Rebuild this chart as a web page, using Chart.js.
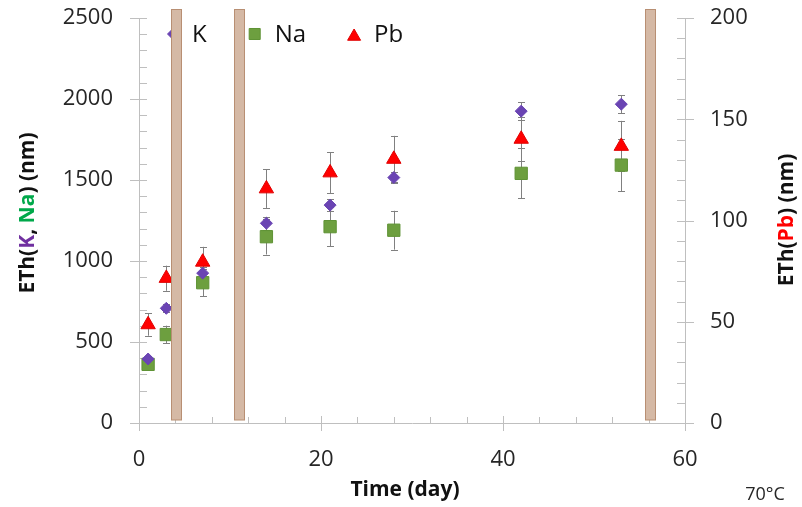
<!DOCTYPE html>
<html>
<head>
<meta charset="utf-8">
<script src="https://cdn.jsdelivr.net/npm/chart.js@4/dist/chart.umd.min.js"></script>
<style>
  html, body { margin: 0; padding: 0; background: #ffffff; }
  #c { display: block; }
</style>
</head>
<body>
<canvas id="c" width="802" height="507"></canvas>
<script>
// Sampling days
const days = [1, 3, 7, 14, 21, 28, 42, 53];

// ETh of K and Na (left axis, nm) with standard deviations
const kValues = [395, 708, 925, 1233, 1345, 1515, 1925, 1968];
const kErrors = [20, 25, 35, 40, 35, 35, 55, 55];
const naValues = [362, 546, 866, 1150, 1212, 1190, 1541, 1592];
const naErrors = [25, 55, 85, 110, 120, 120, 155, 160];

// ETh of Pb (right axis, nm) with standard deviations
const pbValues = [48.6, 71.5, 79.5, 115.7, 123.6, 130.3, 140.2, 136.7];
const pbErrors = [5.5, 6.2, 7.5, 9.5, 10, 11.5, 11, 12.5];

// Labelled tick values
const xMajorTicks = [0, 20, 40, 60];
const leftMajorTicks = [0, 500, 1000, 1500, 2000, 2500];
const rightMajorTicks = [0, 50, 100, 150, 200];

// Days at which the vertical divider strips stand
const dividerDays = [4.1, 10.95, 56.2];

const FONT = "'Open Sans', 'DejaVu Sans', sans-serif";
const AXIS_GREY = '#bfbfbf';
const TEXT = '#262626';

const toPoints = (vals) => days.map((d, i) => ({ x: d, y: vals[i] }));

// Error bars drawn beneath the markers
const errorBars = {
  id: 'errorBars',
  beforeDatasetsDraw(chart) {
    const ctx = chart.ctx;
    const xs = chart.scales.x;
    ctx.save();
    ctx.strokeStyle = '#808080';
    ctx.lineWidth = 1;
    chart.data.datasets.forEach((ds) => {
      const ys = chart.scales[ds.yAxisID];
      ds.data.forEach((p, i) => {
        const e = ds.errors[i];
        const x = Math.round(xs.getPixelForValue(p.x)) + 0.5;
        const y1 = ys.getPixelForValue(p.y + e);
        const y2 = ys.getPixelForValue(p.y - e);
        ctx.beginPath();
        ctx.moveTo(x, y1); ctx.lineTo(x, y2);
        ctx.moveTo(x - 3.5, Math.round(y1) + 0.5); ctx.lineTo(x + 3.5, Math.round(y1) + 0.5);
        ctx.moveTo(x - 3.5, Math.round(y2) + 0.5); ctx.lineTo(x + 3.5, Math.round(y2) + 0.5);
        ctx.stroke();
      });
    });
    ctx.restore();
  }
};

// Major and minor tick marks on the three axes
const tickMarks = {
  id: 'tickMarks',
  beforeDatasetsDraw(chart) {
    const ctx = chart.ctx;
    const a = chart.chartArea;
    const { x, y, y2 } = chart.scales;
    ctx.save();
    ctx.strokeStyle = AXIS_GREY;
    ctx.lineWidth = 1;
    ctx.beginPath();
    y.ticks.forEach((t) => {
      const py = Math.round(y.getPixelForValue(t.value)) + 0.5;
      const major = leftMajorTicks.includes(t.value);
      ctx.moveTo(a.left - (major ? 9 : 0), py);
      ctx.lineTo(a.left + 8, py);
    });
    y2.ticks.forEach((t) => {
      const py = Math.round(y2.getPixelForValue(t.value)) + 0.5;
      const major = rightMajorTicks.includes(t.value);
      ctx.moveTo(a.right - 8, py);
      ctx.lineTo(a.right + (major ? 9 : 0), py);
    });
    x.ticks.forEach((t) => {
      const px = Math.round(x.getPixelForValue(t.value)) + 0.5;
      const major = xMajorTicks.includes(t.value);
      ctx.moveTo(px, a.bottom - (major ? 7 : 6));
      ctx.lineTo(px, a.bottom + (major ? 8 : 0));
    });
    ctx.stroke();
    ctx.restore();
  }
};

// Legend row inside the plot, then the divider strips over it
const legendAndDividers = {
  id: 'legendAndDividers',
  afterDatasetsDraw(chart) {
    const ctx = chart.ctx;
    const a = chart.chartArea;
    const xs = chart.scales.x;
    ctx.save();
    ctx.font = '24px ' + FONT;
    ctx.textBaseline = 'middle';
    const sizes = [4.5, 7.8, 7.5];
    const offsetsY = [0, 0, 2.5];
    let mx = a.left + 33;
    chart.data.datasets.forEach((ds, i) => {
      ctx.fillStyle = ds.backgroundColor;
      ctx.strokeStyle = ds.borderColor;
      ctx.lineWidth = 1;
      Chart.helpers.drawPoint(ctx, {
        pointStyle: ds.pointStyle, radius: sizes[i], rotation: 0, borderWidth: 1
      }, mx, 34 + offsetsY[i]);
      ctx.fillStyle = '#111';
      const tx = mx + 20;
      ctx.fillText(ds.label, tx, 35);
      mx = tx + ctx.measureText(ds.label).width + 48;
    });

    ctx.fillStyle = '#d5b9a5';
    ctx.strokeStyle = '#b88f73';
    ctx.lineWidth = 1;
    dividerDays.forEach((d) => {
      const cx = xs.getPixelForValue(d);
      const left = Math.round(cx - 5) + 0.5;
      const top = Math.round(a.top - 9) + 0.5;
      const h = Math.round(a.bottom - 3) - top;
      ctx.fillRect(left, top, 10, h);
      ctx.strokeRect(left, top, 10, h);
    });
    ctx.restore();
  }
};

// Axis titles and the temperature note
const axisTitles = {
  id: 'axisTitles',
  afterDraw(chart) {
    const ctx = chart.ctx;
    ctx.save();
    ctx.font = 'bold 21px ' + FONT;
    ctx.textBaseline = 'middle';

    const drawRun = (parts, cx, cy, rotate) => {
      ctx.save();
      ctx.translate(cx, cy);
      if (rotate) ctx.rotate(-Math.PI / 2);
      const total = parts.reduce((s, p) => s + ctx.measureText(p[0]).width, 0);
      let x = -total / 2;
      ctx.textAlign = 'left';
      parts.forEach(([txt, col]) => {
        ctx.fillStyle = col;
        ctx.fillText(txt, x, 0);
        x += ctx.measureText(txt).width;
      });
      ctx.restore();
    };

    drawRun([['ETh(', '#111'], ['K', '#7030a0'], [', ', '#111'], ['Na', '#00a84a'], [') (nm)', '#111']], 28, 213, true);
    drawRun([['ETh(', '#111'], ['Pb', '#ff0000'], [') (nm)', '#111']], 787, 220, true);
    drawRun([['Time (day)', '#111']], 405, 490, false);

    ctx.font = '18px ' + FONT;
    ctx.fillStyle = TEXT;
    ctx.textAlign = 'center';
    ctx.fillText('70°C', 765, 495);
    ctx.restore();
  }
};

const tickFont = { family: FONT, size: 22 };

// Fixed axis band sizes, without the label overhang Chart.js adds at the ends
const fixWidth = (w) => (s) => { s.width = w; s.paddingTop = 0; s.paddingBottom = 0; };

new Chart(document.getElementById('c'), {
  type: 'scatter',
  data: {
    datasets: [
      {
        label: 'K', data: toPoints(kValues), errors: kErrors, yAxisID: 'y',
        pointStyle: 'rectRot', pointRadius: 6, pointHoverRadius: 6,
        backgroundColor: '#6a44b3', borderColor: '#6a44b3', borderWidth: 1
      },
      {
        label: 'Na', data: toPoints(naValues), errors: naErrors, yAxisID: 'y',
        pointStyle: 'rect', pointRadius: 8.7, pointHoverRadius: 8.7,
        backgroundColor: '#6d9f3f', borderColor: '#5f9335', borderWidth: 1
      },
      {
        label: 'Pb', data: toPoints(pbValues), errors: pbErrors, yAxisID: 'y2',
        pointStyle: 'triangle', pointRadius: 8.3, pointHoverRadius: 8.3,
        backgroundColor: '#ff0000', borderColor: '#e00000', borderWidth: 1
      }
    ]
  },
  options: {
    responsive: false,
    animation: false,
    devicePixelRatio: 1,
    layout: { autoPadding: false, padding: { top: 18, left: 0, right: 0, bottom: 0 } },
    plugins: { legend: { display: false }, tooltip: { enabled: false } },
    scales: {
      x: {
        type: 'linear', min: 0, max: 60,
        grid: { display: false, drawTicks: false },
        border: { display: true, color: AXIS_GREY, width: 1 },
        ticks: {
          stepSize: 4, autoSkip: false, maxRotation: 0, padding: 24,
          font: tickFont, color: TEXT,
          callback: (v) => xMajorTicks.includes(v) ? String(v) : ''
        },
        afterFit: (s) => { s.height = 84; s.paddingLeft = 0; s.paddingRight = 0; }
      },
      y: {
        type: 'linear', position: 'left', min: 0, max: 2500,
        grid: { display: false, drawTicks: false },
        border: { display: true, color: AXIS_GREY, width: 1 },
        ticks: {
          stepSize: 100, autoSkip: false, padding: 26,
          font: tickFont, color: TEXT,
          callback: (v) => leftMajorTicks.includes(v) ? String(v) : ''
        },
        afterFit: fixWidth(139)
      },
      y2: {
        type: 'linear', position: 'right', min: 0, max: 200,
        grid: { display: false, drawTicks: false },
        border: { display: true, color: AXIS_GREY, width: 1 },
        ticks: {
          stepSize: 10, autoSkip: false, padding: 25,
          font: tickFont, color: TEXT,
          callback: (v) => rightMajorTicks.includes(v) ? String(v) : ''
        },
        afterFit: fixWidth(117)
      }
    }
  },
  plugins: [tickMarks, errorBars, legendAndDividers, axisTitles]
});
</script>
</body>
</html>
